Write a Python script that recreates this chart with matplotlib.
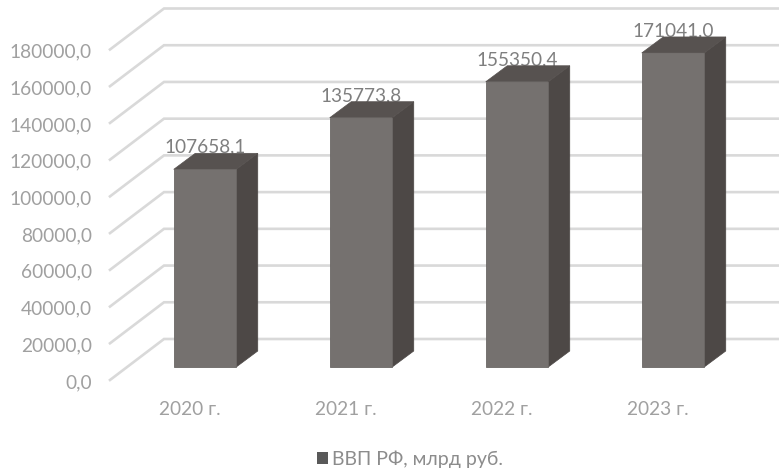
import matplotlib
matplotlib.use("Agg")
import matplotlib.pyplot as plt
from matplotlib.patches import Patch, Polygon
from matplotlib.transforms import ScaledTranslation

categories = ["2020 г.", "2021 г.", "2022 г.", "2023 г."]
values = [107658.1, 135773.8, 155350.4, 171041.0]
value_labels = ["107658,1", "135773,8", "155350,4", "171041,0"]
ticks = [0, 20000, 40000, 60000, 80000, 100000, 120000, 140000, 160000, 180000]
tick_labels = ["0,0", "20000,0", "40000,0", "60000,0", "80000,0", "100000,0",
               "120000,0", "140000,0", "160000,0", "180000,0"]
legend_label = "ВВП РФ, млрд руб."

W, H = 779, 472
FONT = ["Lato", "Open Sans", "DejaVu Sans"]
plt.rcParams["font.family"] = FONT

fig = plt.figure(figsize=(W / 100, H / 100), dpi=100)
# pixel frame of the front plane
L, R, Y0, Y180 = 110, 734, 380, 49.5
ax = fig.add_axes([L / W, 1 - Y0 / H, (R - L) / W, (Y0 - Y180) / H])
ax.set_xlim(-0.5, 3.5)
ax.set_ylim(0, 180000)
CW = (R - L) / 4
VPX = 180000 / (Y0 - Y180)
px_x = lambda p: p / CW
px_y = lambda p: p * VPX

# walls: oblique gridlines
gdx, gdy = px_x(54), px_y(41)
for t in ticks:
    ax.plot([-0.5, -0.5 + gdx, 3.5 + gdx], [t, t + gdy, t + gdy], color="#d9d9d9",
            lw=1.9, clip_on=False, zorder=1, solid_joinstyle="miter")

# 3D bars
offx, offy = px_x(17), px_y(13)
hw = px_x(31.25)
ddx, ddy = px_x(21.5), px_y(16)
for i, v in enumerate(values):
    x0, x1 = i + offx - hw, i + offx + hw
    y0, y1 = offy, offy + v
    ax.add_patch(Polygon([(x1, y0), (x1 + ddx, y0 + ddy), (x1 + ddx, y1 + ddy), (x1, y1)],
                         fc="#4d4846", ec="#4d4846", lw=0.5, zorder=4, clip_on=False))
    ax.add_patch(Polygon([(x0, y1), (x1, y1), (x1 + ddx, y1 + ddy), (x0 + ddx, y1 + ddy)],
                         fc="#575250", ec="#575250", lw=0.5, zorder=4, clip_on=False))
    ax.bar(i + offx, v, bottom=offy, width=2 * hw, color="#75716f", edgecolor="#6b6765",
           lw=0.6, zorder=5, clip_on=False)
    ax.text(i + offx, y1 + px_y(22), value_labels[i], ha="center", va="center",
            fontsize=13.7, color="#7f7f7f", zorder=3, clip_on=False)

for s in ax.spines.values():
    s.set_visible(False)
ax.patch.set_visible(False)
ax.set_xticks(range(4), categories)
ax.set_yticks(ticks, tick_labels)
ax.tick_params(axis="both", length=0, labelsize=13.8, labelcolor="#a0a0a0")
ax.tick_params(axis="y", pad=13)
ax.tick_params(axis="x", pad=15)
yshift = ScaledTranslation(0, 0.5 / 100 - 1.5 / 100, fig.dpi_scale_trans)
for lab in ax.get_yticklabels():
    lab.set_transform(lab.get_transform() + yshift)
xshift = ScaledTranslation(2 / 100, 0, fig.dpi_scale_trans)
for lab in ax.get_xticklabels():
    lab.set_transform(lab.get_transform() + xshift)

handle = Patch(fc="#595959", ec="none")
fig.legend([handle], [legend_label], loc="center", bbox_to_anchor=(410 / W, 1 - 459 / H),
           frameon=False, fontsize=14, labelcolor="#8c8c8c", handlelength=0.56,
           handleheight=0.56, handletextpad=0.25)
fig.savefig("out.png", dpi=100)
